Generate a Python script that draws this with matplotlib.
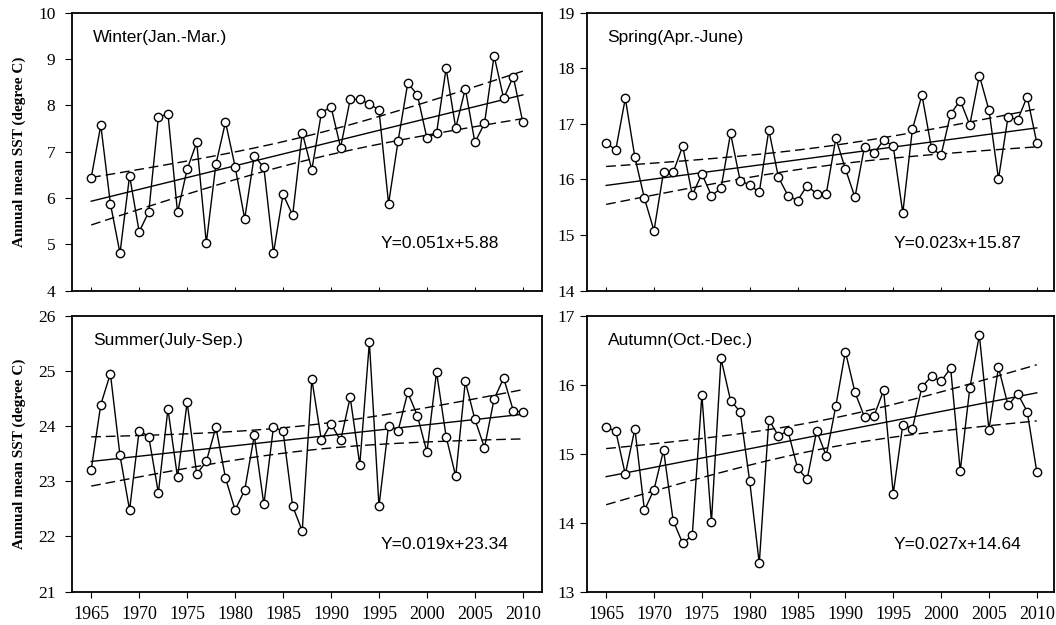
import numpy as np
import matplotlib
matplotlib.use("Agg")
from matplotlib import pyplot as plt

years = np.arange(1965, 2011)

winter = [6.44, 7.57, 5.88, 4.81, 6.48, 5.27, 5.70, 7.74, 7.82, 5.69,
          6.62, 7.20, 5.03, 6.73, 7.64, 6.68, 5.55, 6.91, 6.66, 4.81,
          6.08, 5.63, 7.41, 6.61, 7.84, 7.97, 7.09, 8.13, 8.13, 8.03,
          7.90, 5.88, 7.24, 8.48, 8.23, 7.29, 7.40, 8.80, 7.51, 8.36,
          7.20, 7.61, 9.07, 8.15, 8.62, 7.63]
spring = [16.66, 16.53, 17.46, 16.40, 15.66, 15.08, 16.14, 16.13, 16.60, 15.72,
          16.10, 15.71, 15.84, 16.83, 15.98, 15.90, 15.77, 16.89, 16.04, 15.71,
          15.62, 15.89, 15.74, 15.74, 16.74, 16.19, 15.68, 16.59, 16.47, 16.71,
          16.60, 15.40, 16.90, 17.52, 16.56, 16.44, 17.18, 17.42, 16.98, 17.87,
          17.25, 16.01, 17.13, 17.07, 17.49, 16.66]
summer = [23.21, 24.39, 24.95, 23.47, 22.48, 23.92, 23.81, 22.79, 24.31, 23.07,
          24.43, 23.13, 23.36, 23.98, 23.06, 22.48, 22.84, 23.83, 22.58, 23.98,
          23.91, 22.55, 22.10, 24.85, 23.74, 24.04, 23.74, 24.52, 23.30, 25.52,
          22.55, 24.01, 23.92, 24.61, 24.19, 23.53, 24.98, 23.81, 23.09, 24.81,
          24.12, 23.61, 24.49, 24.87, 24.28, 24.25]
autumn = [15.38, 15.33, 14.70, 15.36, 14.18, 14.48, 15.05, 14.03, 13.70, 13.82,
          15.85, 14.01, 16.38, 15.77, 15.61, 14.60, 13.41, 15.49, 15.26, 15.33,
          14.79, 14.63, 15.33, 14.97, 15.69, 16.48, 15.89, 15.53, 15.55, 15.92,
          14.42, 15.42, 15.36, 15.97, 16.12, 16.05, 16.24, 14.75, 15.95, 16.72,
          15.35, 16.25, 15.70, 15.87, 15.61, 14.74]

titles = ["Winter(Jan.-Mar.)", "Spring(Apr.-June)", "Summer(July-Sep.)", "Autumn(Oct.-Dec.)"]
slopes = [0.051, 0.023, 0.019, 0.027]
intercepts = [5.88, 15.87, 23.34, 14.64]
ylims = [(4, 10), (14, 19), (21, 26), (13, 17)]
xticks = np.arange(1965, 2011, 5)

series = [winter, spring, summer, autumn]
positions = [[0.0682, 0.5349, 0.4451, 0.4448],
             [0.5559, 0.5349, 0.4422, 0.4448],
             [0.0682, 0.0533, 0.4451, 0.4416],
             [0.5559, 0.0533, 0.4422, 0.4416]]

fig = plt.figure(figsize=(10.56, 6.25), dpi=100)
t_val = 2.015  # t(0.975, df=44)

for i in range(4):
    ax = fig.add_axes(positions[i])
    y = np.array(series[i])
    idx = np.arange(1, len(y) + 1)
    fit = slopes[i] * idx + intercepts[i]
    resid = y - fit
    s = np.sqrt(np.sum(resid ** 2) / (len(y) - 2))
    sxx = np.sum((idx - idx.mean()) ** 2)
    half = t_val * s * np.sqrt(1 / len(y) + (idx - idx.mean()) ** 2 / sxx)

    ax.plot(years, fit, color="black", lw=1.0)
    ax.plot(years, fit + half, color="black", lw=1.0, dashes=(7, 3.5))
    ax.plot(years, fit - half, color="black", lw=1.0, dashes=(7, 3.5))
    ax.plot(years, y, color="black", lw=1.0, marker="o", ms=6,
            mfc="white", mec="black", mew=1.0)

    ax.set_ylim(*ylims[i])
    ax.set_xlim(1963, 2012 if i % 2 == 0 else 2011.8)
    ax.set_xticks(xticks)
    ax.set_yticks(np.arange(ylims[i][0], ylims[i][1] + 1))
    for sp in ax.spines.values():
        sp.set_linewidth(1.3)

    if i < 2:
        ax.tick_params(axis="x", direction="in", length=3, labelbottom=False)
    else:
        ax.tick_params(axis="x", direction="out", length=4, pad=6)
    ax.tick_params(axis="y", direction="out", length=5,
                   pad=7 if i % 2 == 0 else 4)
    for lab in ax.get_xticklabels():
        lab.set_fontfamily("Liberation Serif")
        lab.set_fontsize(13)
    for lab in ax.get_yticklabels():
        lab.set_fontfamily("Liberation Serif")
        lab.set_fontsize(12.5)

    if i % 2 == 0:
        ax.set_ylabel("Annual mean SST (degree C)", fontfamily="Liberation Serif",
                      fontweight="bold", fontsize=11)
        ax.yaxis.set_label_coords(-0.097, 0.5)

    ax.text(0.044, 0.91, titles[i], transform=ax.transAxes, fontfamily="Liberation Sans",
            fontsize=12.5, ha="left", va="center")
    ax.text(0.656, 0.17, "Y={}x+{}".format(slopes[i], intercepts[i]), transform=ax.transAxes,
            fontfamily="Liberation Sans", fontsize=12.5, ha="left", va="center")

plt.savefig("out.png", dpi=100)
plt.close()
